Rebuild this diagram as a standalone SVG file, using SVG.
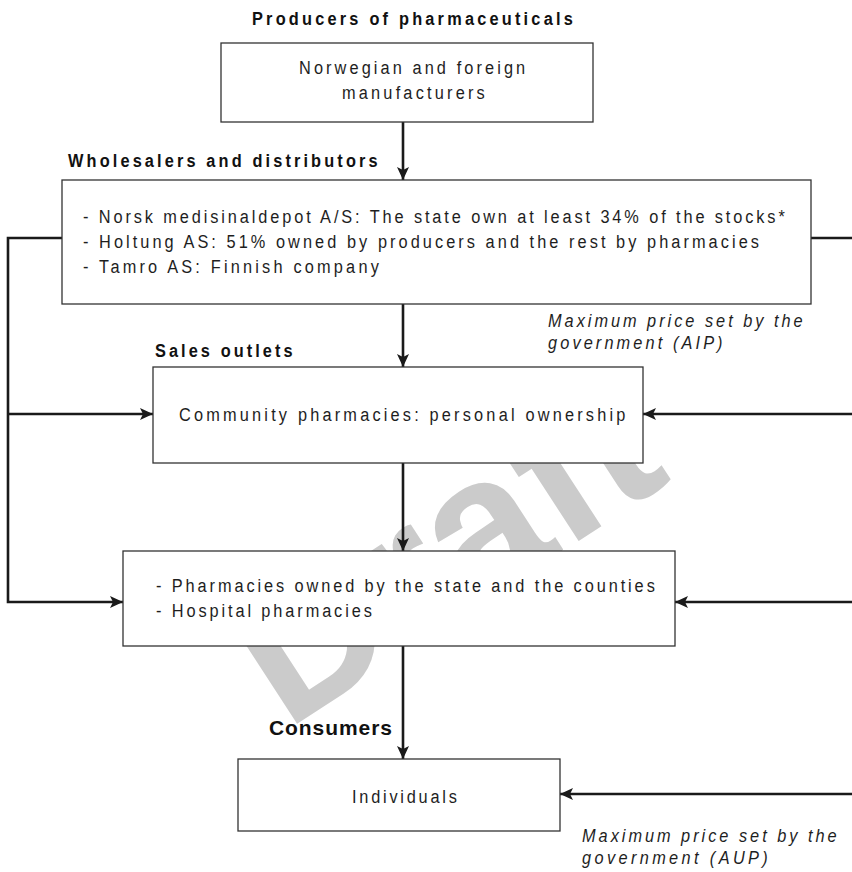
<svg xmlns="http://www.w3.org/2000/svg" width="852" height="872" viewBox="0 0 852 872">
<defs>
<marker id="ah" markerWidth="14" markerHeight="12" refX="13" refY="6" orient="auto" markerUnits="userSpaceOnUse">
<path d="M0,0 L13,6 L0,12 L3,6 Z" fill="#1a1a1a"/>
</marker>
<style>
.box{fill:#ffffff;stroke:#333333;stroke-width:1.3}
.t{font-family:"Liberation Sans",Arial,sans-serif;font-size:19px;fill:#1e1e1e}
.b{font-family:"Liberation Sans",Arial,sans-serif;font-size:19px;font-weight:bold;fill:#111111}
.i{font-family:"Liberation Sans",Arial,sans-serif;font-size:19px;font-style:italic;fill:#1e1e1e}
.c{fill:none;stroke:#1a1a1a;stroke-width:2.6}
.wm{font-family:"Liberation Sans",Arial,sans-serif;font-size:198px;font-weight:bold;fill:#cbcbcb}
</style>
</defs>
<rect width="852" height="872" fill="#ffffff"/>
<g id="watermark">
<text class="wm" x="286" y="731" transform="rotate(-33 286 731)">Draft</text>
</g>
<g id="labels">
<text class="b" transform="translate(252,25) scale(0.86,1)" textLength="373" lengthAdjust="spacing">Producers of pharmaceuticals</text>
<text class="b" transform="translate(68,167) scale(0.86,1)" textLength="360" lengthAdjust="spacing">Wholesalers and distributors</text>
<text class="b" transform="translate(155,357) scale(0.86,1)" textLength="160" lengthAdjust="spacing">Sales outlets</text>
<text x="269" y="735" font-family="'Liberation Sans',Arial,sans-serif" font-size="21" font-weight="bold" fill="#111111" textLength="123" lengthAdjust="spacing">Consumers</text>
<text class="i" transform="translate(548,327) scale(0.86,1)" textLength="296" lengthAdjust="spacing">Maximum price set by the</text>
<text class="i" transform="translate(548,349) scale(0.86,1)" textLength="203" lengthAdjust="spacing">government (AIP)</text>
<text class="i" transform="translate(582,842) scale(0.86,1)" textLength="296" lengthAdjust="spacing">Maximum price set by the</text>
<text class="i" transform="translate(582,864) scale(0.86,1)" textLength="216" lengthAdjust="spacing">government (AUP)</text>
</g>
<g id="connectors">
<line class="c" x1="403" y1="122" x2="403" y2="180" marker-end="url(#ah)"/>
<line class="c" x1="403" y1="304" x2="403" y2="367" marker-end="url(#ah)"/>
<line class="c" x1="403" y1="463" x2="403" y2="551" marker-end="url(#ah)"/>
<line class="c" x1="403" y1="646" x2="403" y2="759" marker-end="url(#ah)"/>
<path class="c" d="M62,238 H8 V602 H123" marker-end="url(#ah)"/>
<path class="c" d="M8,414 H153" marker-end="url(#ah)"/>
<path class="c" d="M811,238 H860"/>
<path class="c" d="M860,414 H643" marker-end="url(#ah)"/>
<path class="c" d="M860,602 H675" marker-end="url(#ah)"/>
<path class="c" d="M860,794 H560" marker-end="url(#ah)"/>
</g>
<g id="producers">
<rect class="box" x="221" y="43" width="372" height="79"/>
<text class="t" transform="translate(299,74) scale(0.86,1)" textLength="263" lengthAdjust="spacing">Norwegian and foreign</text>
<text class="t" transform="translate(342,99) scale(0.86,1)" textLength="166" lengthAdjust="spacing">manufacturers</text>
</g>
<g id="wholesalers">
<rect class="box" x="62" y="180" width="749" height="124"/>
<text class="t" transform="translate(83,223) scale(0.86,1)" textLength="816" lengthAdjust="spacing">- Norsk medisinaldepot A/S: The state own at least 34% of the stocks*</text>
<text class="t" transform="translate(83,248) scale(0.86,1)" textLength="786" lengthAdjust="spacing">- Holtung AS: 51% owned by producers and the rest by pharmacies</text>
<text class="t" transform="translate(83,273) scale(0.86,1)" textLength="344" lengthAdjust="spacing">- Tamro AS: Finnish company</text>
</g>
<g id="community">
<rect class="box" x="153" y="367" width="490" height="96"/>
<text class="t" transform="translate(179,421) scale(0.86,1)" textLength="519" lengthAdjust="spacing">Community pharmacies: personal ownership</text>
</g>
<g id="state">
<rect class="box" x="123" y="551" width="552" height="95"/>
<text class="t" transform="translate(156,592) scale(0.86,1)" textLength="580" lengthAdjust="spacing">- Pharmacies owned by the state and the counties</text>
<text class="t" transform="translate(156,617) scale(0.86,1)" textLength="251" lengthAdjust="spacing">- Hospital pharmacies</text>
</g>
<g id="individuals">
<rect class="box" x="238" y="759" width="322" height="72"/>
<text class="t" transform="translate(352,803) scale(0.86,1)" textLength="122" lengthAdjust="spacing">Individuals</text>
</g>
</svg>
